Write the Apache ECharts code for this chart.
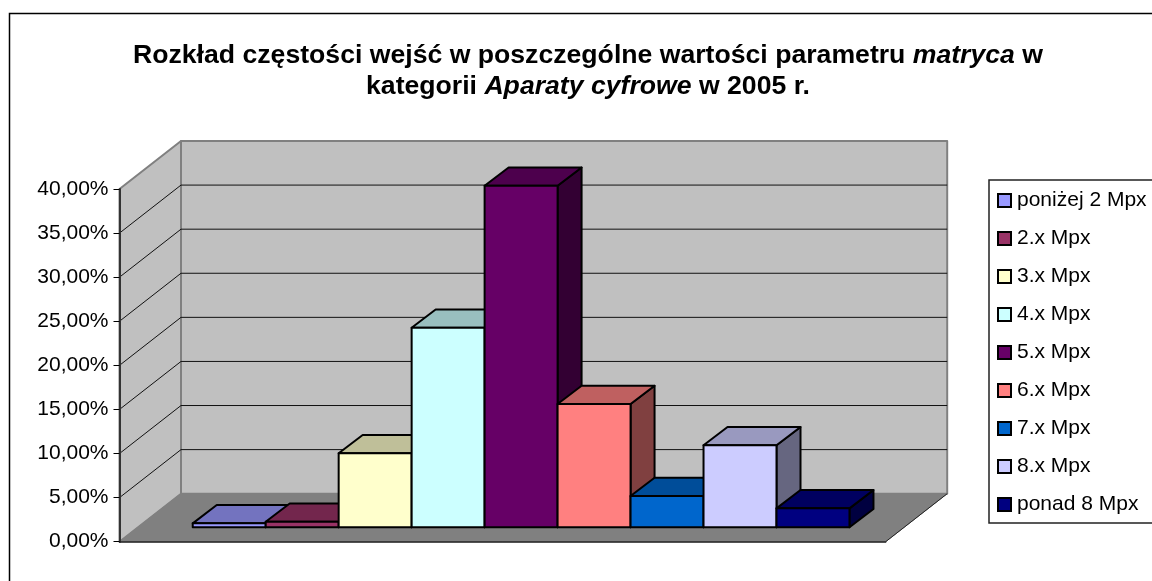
<!DOCTYPE html>
<html>
<head>
<meta charset="utf-8">
<title>Rozkład częstości wejść</title>
<script src="https://cdn.jsdelivr.net/npm/echarts@6/dist/echarts.min.js"></script>
<style>
html, body { margin: 0; padding: 0; background: #fff; overflow: hidden; }
#chart { width: 1152px; height: 581px; }
</style>
</head>
<body>
<div id="chart"></div>
<script>
var categories = ['2005'];
var seriesNames = ['poniżej 2 Mpx', '2.x Mpx', '3.x Mpx', '4.x Mpx', '5.x Mpx', '6.x Mpx', '7.x Mpx', '8.x Mpx', 'ponad 8 Mpx'];
var seriesValues = [0.45, 0.63, 8.39, 22.63, 38.73, 13.98, 3.55, 9.3, 2.15];
var seriesColors = ['#9999FF', '#993366', '#FFFFCC', '#CCFFFF', '#660066', '#FF8080', '#0066CC', '#CCCCFF', '#000080'];
var yTicks = [0, 5, 10, 15, 20, 25, 30, 35, 40];

// perspective of the box (px)
var wallDx = 61.5, wallDy = 48;
var barFrontDx = 18.5, barFrontDy = 14.4;
var barBackDx = 42.5, barBackDy = 32.7;
var gapBars = 1.5; // gap width 150%

function shade(hex, k) {
    var r = parseInt(hex.substr(1, 2), 16), g = parseInt(hex.substr(3, 2), 16), b = parseInt(hex.substr(5, 2), 16);
    return 'rgb(' + Math.round(r * k) + ',' + Math.round(g * k) + ',' + Math.round(b * k) + ')';
}

function poly(points, fill, stroke, width) {
    return {
        type: 'polygon',
        shape: { points: points },
        style: { fill: fill, stroke: stroke, lineWidth: width, lineJoin: 'round' }
    };
}

function line(p1, p2, color, width) {
    return {
        type: 'line',
        shape: { x1: p1[0], y1: p1[1], x2: p2[0], y2: p2[1] },
        style: { stroke: color, lineWidth: width }
    };
}

// back wall, side wall, floor and the gridlines
function renderWalls(params, api) {
    var band = api.size([1, 0])[0];
    var c0 = api.coord([0, yTicks[0]]);
    var c1 = api.coord([0, yTicks[yTicks.length - 1]]);
    var left = c0[0] - band / 2, right = c0[0] + band / 2;
    var bottom = c0[1], top = c1[1];
    var kids = [];
    kids.push(poly([[left + wallDx, top - wallDy], [right + wallDx, top - wallDy], [right + wallDx, bottom - wallDy], [left + wallDx, bottom - wallDy]], '#C0C0C0', '#808080', 2));
    kids.push(poly([[left, top], [left + wallDx, top - wallDy], [left + wallDx, bottom - wallDy], [left, bottom]], '#C0C0C0', '#808080', 2));
    kids.push(poly([[left, bottom], [left + wallDx, bottom - wallDy], [right + wallDx, bottom - wallDy], [right, bottom]], '#808080', '#808080', 1));
    kids.push(line([right, bottom], [right + wallDx, bottom - wallDy], '#222', 1));
    for (var i = 1; i < yTicks.length - 1; i++) {
        var y = api.coord([0, yTicks[i]])[1];
        kids.push(line([left, y], [left + wallDx, y - wallDy], '#111', 1));
        kids.push(line([left + wallDx, y - wallDy], [right + wallDx, y - wallDy], '#111', 1));
    }
    return { type: 'group', children: kids };
}

function renderBar(params, api) {
    var i = params.seriesIndex - 1;
    var band = api.size([1, 0])[0];
    var barW = band / (seriesValues.length + gapBars);
    var c0 = api.coord([api.value(0), 0]);
    var c1 = api.coord([api.value(0), api.value(1)]);
    var x0 = c0[0] - band / 2 + barW * (gapBars / 2 + i) + barFrontDx;
    var x1 = x0 + barW;
    var yBase = c0[1] - barFrontDy;
    var yTop = c1[1] - barFrontDy;
    var dx = barBackDx - barFrontDx, dy = barBackDy - barFrontDy;
    var color = seriesColors[i];
    return {
        type: 'group',
        children: [
            poly([[x1, yTop], [x1 + dx, yTop - dy], [x1 + dx, yBase - dy], [x1, yBase]], shade(color, 0.5), '#000', 2),
            poly([[x0, yTop], [x0 + dx, yTop - dy], [x1 + dx, yTop - dy], [x1, yTop]], shade(color, 0.75), '#000', 2),
            poly([[x0, yTop], [x1, yTop], [x1, yBase], [x0, yBase]], color, '#000', 2)
        ]
    };
}

var series = [{
    name: 'walls',
    type: 'custom',
    silent: true,
    renderItem: renderWalls,
    data: [[0, 0]],
    encode: { x: 0, y: 1 }
}];
for (var s = 0; s < seriesNames.length; s++) {
    series.push({
        name: seriesNames[s],
        type: 'custom',
        renderItem: renderBar,
        itemStyle: { color: seriesColors[s] },
        data: [[0, seriesValues[s]]],
        encode: { x: 0, y: 1 }
    });
}

var myChart = echarts.init(document.getElementById('chart'));
var option = {
    animation: false,
    backgroundColor: '#fff',
    textStyle: { fontFamily: 'Liberation Sans' },
    legend: {
        data: seriesNames,
        orient: 'vertical',
        left: 989,
        top: 180,
        padding: [10, 10, 8, 8],
        backgroundColor: '#fff',
        borderColor: '#222',
        borderWidth: 1.5,
        selectedMode: false,
        icon: 'rect',
        itemWidth: 13,
        itemHeight: 13,
        itemGap: 17,
        itemStyle: { borderColor: '#000', borderWidth: 2 },
        textStyle: { fontFamily: 'Liberation Sans', fontSize: 21, color: '#000', padding: [0, 0, 0, 1] }
    },
    grid: { left: 119.5, top: 189, width: 766.2, height: 352.7 },
    xAxis: {
        type: 'category',
        data: categories,
        axisLabel: { show: false },
        axisTick: { show: false },
        axisLine: { show: true, lineStyle: { color: '#222', width: 1.5 } },
        z: 5
    },
    yAxis: {
        type: 'value',
        min: 0,
        max: 40,
        interval: 5,
        splitLine: { show: false },
        axisLine: { show: true, lineStyle: { color: '#333', width: 2 } },
        axisTick: { show: true, length: 6, lineStyle: { color: '#000', width: 1 } },
        axisLabel: {
            margin: 11,
            padding: [2, 0, 0, 0],
            fontFamily: 'Liberation Sans',
            fontSize: 21,
            color: '#000',
            formatter: function (v) { return v.toFixed(2).replace('.', ',') + '%'; }
        },
        z: 5
    },
    graphic: [{
        type: 'rect',
        silent: true,
        z: -1,
        shape: { x: 9.5, y: 13.5, width: 1300, height: 800 },
        style: { fill: 'none', stroke: '#000', lineWidth: 1.5 }
    }, {
        // title is stretched a little, the original has wide letter spacing
        type: 'text',
        silent: true,
        x: 588,
        y: 41,
        scaleX: 1.065,
        style: {
            text: '{b|Rozkład częstości wejść w poszczególne wartości parametru }{i|matryca}{b| w}\n{b|kategorii }{i|Aparaty cyfrowe}{b| w 2005 r.}',
            align: 'center',
            verticalAlign: 'top',
            rich: {
                b: { fontFamily: 'Liberation Sans', fontSize: 25, fontWeight: 'bold', fill: '#000', lineHeight: 31 },
                i: { fontFamily: 'Liberation Sans', fontSize: 25, fontWeight: 'bold', fontStyle: 'italic', fill: '#000', lineHeight: 31 }
            }
        }
    }],
    series: series
};
myChart.setOption(option);
</script>
</body>
</html>
